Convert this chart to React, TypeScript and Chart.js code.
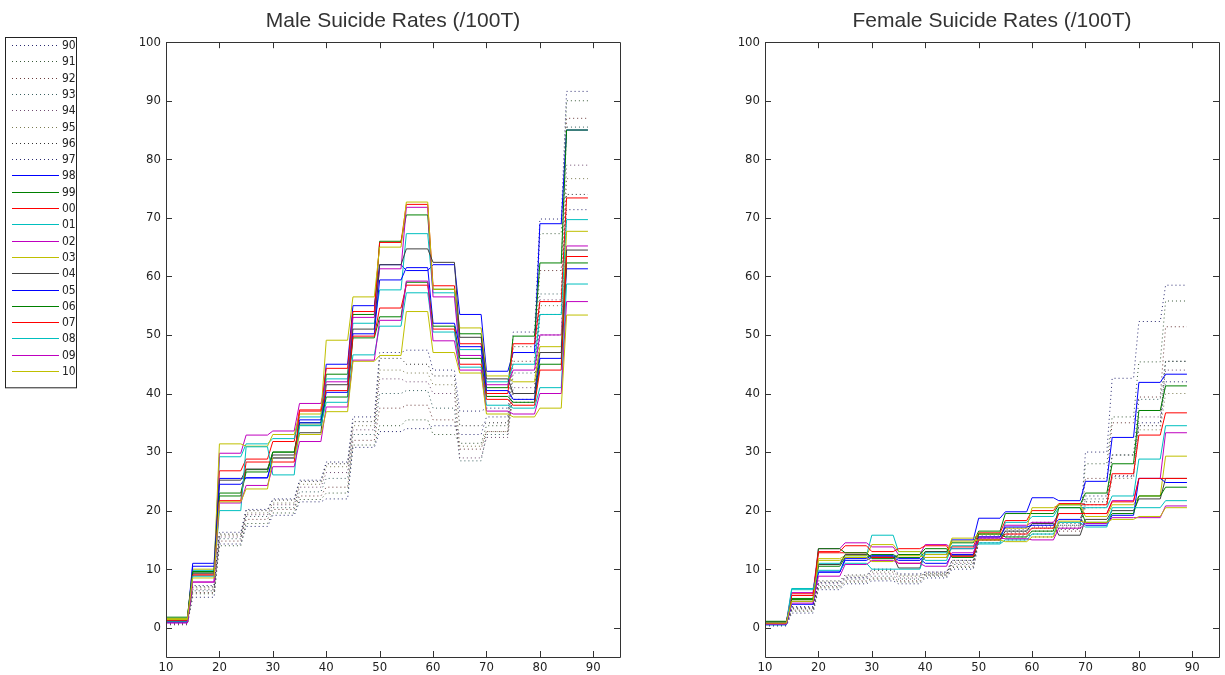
import React, { useEffect, useRef } from "react";
import { Chart, registerables } from "chart.js";

Chart.register(...registerables);

// ---------- data ----------
const years = ["90", "91", "92", "93", "94", "95", "96", "97", "98", "99", "00", "01", "02", "03", "04", "05", "06", "07", "08", "09", "10"];
// 5-year age groups: 10-14, 15-19, ... 85-89
const ageStart = [10, 15, 20, 25, 30, 35, 40, 45, 50, 55, 60, 65, 70, 75, 80, 85];
const ageEnd = [14, 19, 24, 29, 34, 39, 44, 49, 54, 59, 64, 69, 74, 79, 84, 89];
const xTicks = [10, 20, 30, 40, 50, 60, 70, 80, 90];
const yTicks = [0, 10, 20, 30, 40, 50, 60, 70, 80, 90, 100];

const male90 = [0.6, 5.2, 14.3, 17.3, 19.2, 21.5, 22.0, 30.8, 33.5, 34.0, 34.5, 33.0, 36.0, 50.5, 69.8, 91.6];
const male91 = [0.5, 5.8, 14.0, 17.8, 19.6, 21.9, 23.0, 31.2, 34.5, 35.5, 33.0, 31.5, 34.5, 48.0, 67.3, 90.0];
const male92 = [0.7, 6.0, 14.8, 18.5, 20.2, 22.5, 24.0, 32.0, 37.5, 38.0, 35.5, 30.5, 33.5, 45.5, 61.0, 87.0];
const male93 = [0.8, 6.3, 15.2, 19.0, 20.5, 23.2, 25.5, 33.0, 40.0, 40.5, 37.5, 28.5, 33.0, 43.5, 57.0, 85.5];
const male94 = [0.6, 6.5, 15.5, 19.3, 21.0, 24.0, 26.5, 33.8, 42.5, 42.0, 40.0, 29.0, 32.5, 41.0, 56.0, 79.0];
const male95 = [0.9, 6.8, 15.8, 19.6, 21.3, 24.5, 27.5, 34.5, 44.0, 43.5, 41.5, 31.0, 33.5, 40.0, 55.0, 76.7];
const male96 = [1.0, 7.0, 16.0, 20.0, 21.8, 25.0, 28.0, 35.2, 46.0, 45.0, 43.0, 34.5, 35.0, 39.0, 53.5, 74.0];
const male97 = [1.0, 7.2, 16.3, 20.2, 22.0, 25.2, 28.3, 36.0, 47.0, 47.4, 44.0, 37.0, 37.5, 38.5, 50.0, 71.4];
const male98 = [1.2, 11.0, 25.5, 25.6, 29.0, 35.5, 45.0, 55.0, 62.0, 61.0, 62.0, 53.5, 43.8, 47.0, 69.0, 85.0];
const male99 = [1.5, 9.5, 23.0, 27.0, 30.0, 35.0, 43.3, 53.5, 66.0, 70.5, 57.8, 50.2, 41.0, 49.8, 62.3, 85.0];
const male00 = [1.0, 9.0, 26.8, 28.8, 31.8, 37.2, 44.3, 54.0, 65.8, 72.3, 58.4, 48.5, 40.0, 48.5, 55.7, 73.4];
const male01 = [1.3, 9.8, 29.2, 31.4, 32.3, 36.0, 42.5, 52.0, 57.7, 67.3, 57.2, 47.5, 42.0, 45.0, 53.5, 69.7];
const male02 = [0.9, 7.8, 29.8, 32.9, 33.6, 38.3, 42.0, 53.0, 61.3, 71.8, 56.5, 46.5, 41.5, 44.0, 50.0, 65.2];
const male03 = [1.6, 10.0, 31.4, 31.0, 33.0, 36.5, 49.1, 56.5, 65.0, 72.7, 57.8, 51.2, 43.0, 42.0, 48.0, 67.7];
const male04 = [1.1, 9.3, 25.2, 27.1, 29.5, 33.3, 41.5, 51.0, 62.0, 64.7, 62.4, 49.6, 42.5, 40.0, 47.0, 64.5];
const male05 = [1.0, 10.5, 24.5, 25.6, 29.0, 35.0, 40.2, 50.2, 59.4, 61.5, 52.0, 48.0, 40.5, 39.0, 46.0, 61.3];
const male06 = [1.8, 9.6, 22.5, 26.6, 30.0, 34.6, 39.4, 49.5, 53.1, 59.0, 51.5, 46.0, 39.5, 38.5, 45.0, 62.3];
const male07 = [1.2, 9.0, 21.7, 28.3, 28.3, 37.0, 40.5, 49.8, 54.6, 58.5, 51.0, 45.0, 39.0, 38.0, 44.0, 63.4];
const male08 = [1.0, 8.8, 20.0, 30.9, 26.1, 34.5, 38.5, 46.6, 51.5, 57.2, 50.5, 44.5, 38.0, 37.5, 41.0, 58.7];
const male09 = [0.8, 7.8, 21.3, 24.3, 27.5, 31.8, 37.7, 45.7, 52.5, 59.2, 49.0, 44.0, 37.0, 36.5, 40.0, 55.7];
const male10 = [1.4, 8.5, 21.5, 23.7, 29.0, 33.0, 36.9, 45.5, 46.5, 54.0, 47.0, 43.5, 36.5, 36.0, 37.5, 53.4];

const female90 = [0.3, 2.5, 6.5, 7.5, 8.0, 7.5, 8.5, 10.0, 14.5, 15.0, 15.5, 17.0, 30.0, 42.6, 52.3, 58.5];
const female91 = [0.4, 2.8, 6.8, 7.8, 8.3, 7.8, 8.8, 10.3, 15.0, 15.5, 16.0, 17.5, 28.0, 36.0, 45.4, 55.8];
const female92 = [0.5, 3.0, 7.0, 8.0, 8.5, 8.0, 9.0, 10.5, 15.3, 16.0, 16.5, 16.5, 25.5, 35.0, 39.4, 51.4];
const female93 = [0.4, 3.2, 7.2, 8.3, 8.8, 8.3, 9.2, 10.8, 15.5, 16.5, 17.0, 17.8, 22.0, 29.5, 39.0, 45.5];
const female94 = [0.5, 3.3, 7.5, 8.5, 9.2, 8.5, 9.5, 11.0, 15.7, 16.8, 17.5, 18.0, 21.0, 26.0, 36.0, 44.0];
const female95 = [0.6, 3.5, 7.8, 8.8, 9.5, 8.8, 9.3, 11.2, 16.0, 17.0, 17.8, 17.2, 20.5, 25.5, 33.8, 40.0];
const female96 = [0.5, 3.4, 8.0, 9.0, 9.8, 9.0, 9.0, 11.5, 15.0, 16.2, 18.0, 16.8, 21.5, 29.5, 34.5, 45.5];
const female97 = [0.6, 3.6, 7.7, 8.6, 10.0, 9.2, 9.5, 11.5, 15.2, 15.8, 17.2, 17.5, 22.5, 25.8, 35.0, 42.0];
const female98 = [0.8, 5.5, 9.5, 11.5, 12.0, 11.5, 12.5, 15.0, 18.7, 19.8, 22.2, 21.7, 25.0, 32.5, 41.9, 43.3];
const female99 = [1.0, 5.0, 10.5, 12.0, 12.5, 12.0, 13.0, 14.5, 16.5, 19.5, 19.5, 21.0, 23.0, 28.0, 37.1, 41.3];
const female00 = [0.7, 5.8, 12.8, 12.8, 12.0, 11.0, 12.0, 13.8, 16.2, 18.3, 20.0, 21.2, 21.0, 26.3, 32.9, 36.7];
const female01 = [0.9, 6.7, 11.0, 12.3, 15.8, 13.0, 11.5, 14.0, 14.5, 18.0, 19.0, 20.5, 20.5, 22.5, 28.8, 34.5];
const female02 = [1.0, 6.0, 13.5, 14.5, 13.8, 12.5, 14.2, 13.5, 15.5, 17.5, 18.0, 19.5, 19.5, 21.7, 25.5, 33.3];
const female03 = [0.6, 4.8, 11.8, 12.3, 14.2, 13.0, 12.5, 15.3, 16.0, 17.0, 20.5, 21.0, 19.0, 21.0, 22.5, 29.3];
const female04 = [0.8, 4.5, 10.8, 12.5, 12.2, 10.2, 13.0, 12.3, 15.0, 16.5, 17.8, 15.8, 18.5, 20.0, 22.0, 25.5];
const female05 = [0.5, 4.0, 9.5, 11.8, 12.3, 11.8, 11.0, 12.5, 15.5, 17.2, 17.5, 18.5, 17.5, 19.2, 25.5, 24.8];
const female06 = [1.1, 4.8, 13.5, 12.8, 11.8, 12.5, 13.5, 12.0, 16.0, 15.5, 16.5, 20.5, 18.0, 19.5, 22.5, 24.0];
const female07 = [0.7, 5.5, 13.0, 14.0, 13.0, 13.5, 14.0, 12.2, 15.0, 16.0, 17.0, 19.5, 19.5, 21.5, 25.5, 25.5];
const female08 = [0.5, 6.5, 9.8, 11.0, 10.0, 10.0, 12.8, 13.5, 14.3, 15.0, 16.0, 18.0, 17.2, 20.5, 20.5, 21.7];
const female09 = [0.6, 4.2, 8.8, 10.8, 11.5, 11.0, 10.5, 12.8, 15.3, 15.2, 15.0, 17.0, 17.8, 18.8, 18.8, 20.8];
const female10 = [0.8, 4.5, 11.5, 12.0, 11.3, 12.3, 12.0, 14.8, 15.0, 14.7, 15.5, 18.2, 18.0, 18.5, 19.0, 20.5];

const maleSeries = [male90, male91, male92, male93, male94, male95, male96, male97, male98, male99, male00, male01, male02, male03, male04, male05, male06, male07, male08, male09, male10];
const femaleSeries = [female90, female91, female92, female93, female94, female95, female96, female97, female98, female99, female00, female01, female02, female03, female04, female05, female06, female07, female08, female09, female10];

// ---------- styles ----------
const lineColors = [
  "#2a2a70", "#3a5a3a", "#6a3a3a", "#3a6060", "#704a70", "#7a7a50", "#333333", "#2a2a70",
  "#0000FF", "#008000", "#FF0000", "#00BFBF", "#BF00BF", "#BFBF00", "#404040",
  "#0000FF", "#008000", "#FF0000", "#00BFBF", "#BF00BF", "#BFBF00",
];
const dotted = years.map((_, i) => i < 8);

const TICK_FONT = "'Liberation Sans Narrow', 'DejaVu Sans Condensed', sans-serif";
const AXIS_COLOR = "#333333";

const matlabAxesPlugin = {
  id: "matlabAxes",
  afterDraw(chart: any) {
    const { ctx, chartArea, scales } = chart;
    const { left, right, top, bottom } = chartArea;
    const len = 6;
    ctx.save();
    ctx.strokeStyle = AXIS_COLOR;
    ctx.lineWidth = 1;
    ctx.beginPath();
    ctx.rect(Math.round(left) + 0.5, Math.round(top) + 0.5, Math.round(right - left), Math.round(bottom - top));
    ctx.stroke();
    ctx.beginPath();
    xTicks.forEach((v) => {
      const px = Math.round(scales.x.getPixelForValue(v)) + 0.5;
      ctx.moveTo(px, bottom);
      ctx.lineTo(px, bottom - len);
      ctx.moveTo(px, top);
      ctx.lineTo(px, top + len);
    });
    yTicks.forEach((v) => {
      const py = Math.round(scales.y.getPixelForValue(v)) + 0.5;
      ctx.moveTo(left, py);
      ctx.lineTo(left + len, py);
      ctx.moveTo(right, py);
      ctx.lineTo(right - len, py);
    });
    ctx.stroke();
    ctx.restore();
  },
};

const boxLegendPlugin = {
  id: "boxLegend",
  afterDraw(chart: any, _args: any, opts: any) {
    if (!opts || !opts.show) return;
    const { ctx } = chart;
    const datasets = chart.data.datasets;
    const x0 = 5;
    const y0 = 37;
    const rowH = 16.3;
    const w = 71;
    const h = rowH * datasets.length + 8;
    ctx.save();
    ctx.fillStyle = "#ffffff";
    ctx.fillRect(x0, y0, w, h);
    ctx.strokeStyle = "#222222";
    ctx.lineWidth = 1;
    ctx.strokeRect(x0 + 0.5, y0 + 0.5, w, h);
    ctx.font = `12px ${TICK_FONT}`;
    ctx.textBaseline = "middle";
    ctx.textAlign = "left";
    datasets.forEach((ds: any, i: number) => {
      const cy = Math.round(y0 + 8 + rowH * i) + 0.5;
      ctx.beginPath();
      ctx.lineWidth = 1;
      ctx.strokeStyle = ds.borderColor;
      ctx.setLineDash(ds.borderDash || []);
      ctx.moveTo(x0 + 7, cy);
      ctx.lineTo(x0 + 54, cy);
      ctx.stroke();
      ctx.setLineDash([]);
      ctx.fillStyle = "#222222";
      ctx.fillText(ds.label, x0 + 57, cy);
    });
    ctx.restore();
  },
};

function buildDatasets(series: number[][]) {
  return series.map((vals, i) => ({
    label: years[i],
    data: ageStart.flatMap((s, k) => [
      { x: s, y: vals[k] },
      { x: ageEnd[k], y: vals[k] },
    ]),
    borderColor: lineColors[i],
    backgroundColor: lineColors[i],
    borderWidth: 1,
    borderDash: dotted[i] ? [1, 3] : [],
    pointRadius: 0,
    pointHoverRadius: 0,
    fill: false,
    tension: 0,
    order: series.length - 1 - i,
  }));
}

function makeConfig(title: string, series: number[][], padLeft: number, padRight: number, showLegend: boolean): any {
  return {
    type: "line",
    data: { datasets: buildDatasets(series) },
    plugins: [matlabAxesPlugin, boxLegendPlugin],
    options: {
      responsive: false,
      animation: false,
      events: [],
      layout: { padding: { left: padLeft, right: padRight, top: 5, bottom: 0 } },
      plugins: {
        legend: { display: false },
        tooltip: { enabled: false },
        boxLegend: { show: showLegend },
        title: {
          display: true,
          text: title,
          fullSize: false,
          color: "#333333",
          font: { family: "'Liberation Sans', Arial, sans-serif", size: 21, weight: "normal" },
          padding: { top: 4, bottom: 8 },
        },
      },
      scales: {
        x: {
          type: "linear",
          min: 10,
          max: 95,
          grid: { display: false, drawTicks: false },
          border: { display: false },
          afterBuildTicks: (s: any) => {
            s.ticks = xTicks.map((v) => ({ value: v }));
          },
          afterFit: (s: any) => {
            s.height = 18;
          },
          ticks: {
            autoSkip: false,
            maxRotation: 0,
            padding: 3,
            color: "#222222",
            font: { family: TICK_FONT, size: 13 },
          },
        },
        y: {
          type: "linear",
          min: -5,
          max: 100,
          grid: { display: false, drawTicks: false },
          border: { display: false },
          afterBuildTicks: (s: any) => {
            s.ticks = yTicks.map((v) => ({ value: v }));
          },
          afterFit: (s: any) => {
            s.width = 40;
          },
          ticks: {
            padding: 5,
            color: "#222222",
            font: { family: TICK_FONT, size: 13 },
          },
        },
      },
    },
  };
}

function Panel(props: { left: number; width: number; title: string; series: number[][]; padLeft: number; padRight: number; legend: boolean }) {
  const ref = useRef<HTMLCanvasElement | null>(null);
  useEffect(() => {
    if (!ref.current) return;
    const chart = new Chart(ref.current, makeConfig(props.title, props.series, props.padLeft, props.padRight, props.legend));
    return () => chart.destroy();
  }, []);
  return (
    <div style={{ position: "absolute", left: props.left, top: 0, width: props.width, height: 675 }}>
      <canvas ref={ref} width={props.width} height={675} style={{ display: "block", width: props.width, height: 675 }} />
    </div>
  );
}

export default function App() {
  return (
    <div style={{ position: "absolute", left: 0, top: 0, width: 1225, height: 675, background: "#ffffff", overflow: "hidden" }}>
      <Panel left={0} width={640} title="Male Suicide Rates (/100T)" series={maleSeries} padLeft={126} padRight={20} legend={true} />
      <Panel left={640} width={585} title="Female Suicide Rates (/100T)" series={femaleSeries} padLeft={85} padRight={6} legend={false} />
    </div>
  );
}
